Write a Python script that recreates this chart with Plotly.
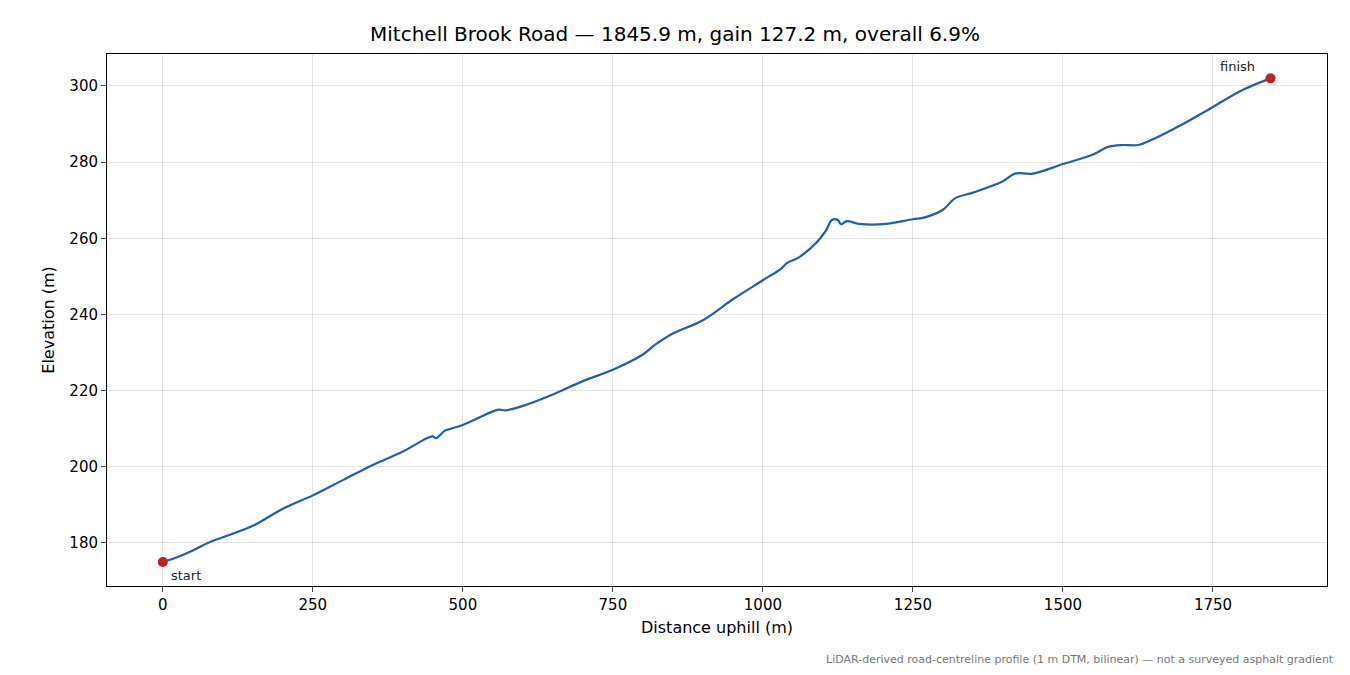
import plotly.graph_objects as go

# profile
distance = [0, 25, 50, 75, 100, 150, 200, 250, 300, 350, 400, 440, 450, 455, 470, 480, 500,
            560, 570, 600, 650, 700, 750, 800, 820, 850, 900, 950, 1000, 1030, 1040, 1060,
            1090, 1105, 1115, 1125, 1130, 1140, 1160, 1200, 1250, 1270, 1300, 1320, 1350,
            1400, 1420, 1450, 1500, 1550, 1575, 1600, 1625, 1650, 1700, 1750, 1800, 1845.9]
elevation = [175, 176.3, 178, 180, 181.5, 184.5, 189, 192.5, 196.5, 200.5, 204, 207.5, 208,
             207.5, 209.5, 210, 211, 215, 214.8, 216, 219, 222.5, 225.5, 229.5, 232, 235,
             238.5, 244, 249, 252, 253.5, 255, 259, 262, 264.8, 264.8, 263.7, 264.5, 263.8,
             263.7, 265, 265.5, 267.5, 270.5, 272, 275, 277, 277, 279.5, 282, 284, 284.5,
             284.5, 286, 290, 294.5, 299, 302]
end_x = [distance[0], distance[-1]]
end_y = [elevation[0], elevation[-1]]

fig = go.Figure()
fig.add_trace(go.Scatter(x=distance, y=elevation, mode="lines", line_shape="spline",
                         line=dict(color="#1f5fb4", width=2.2), hoverinfo="skip"))
fig.add_trace(go.Scatter(x=end_x, y=end_y, mode="markers",
                         marker=dict(color="#c0202a", size=10)))

fig.add_annotation(x=end_x[0], y=end_y[0], text="start", showarrow=False,
                   xanchor="left", yanchor="top", xshift=6, yshift=-4,
                   font=dict(size=13, color="#222"))
fig.add_annotation(x=end_x[1], y=end_y[1], text="finish", showarrow=False,
                   xanchor="right", yanchor="bottom", xshift=-14, yshift=2,
                   font=dict(size=13, color="#222"))
fig.add_annotation(xref="paper", yref="paper", x=1.007, y=-0.139, showarrow=False,
                   xanchor="right", yanchor="middle",
                   text="LiDAR-derived road-centreline profile (1 m DTM, bilinear) — not a surveyed asphalt gradient",
                   font=dict(size=11, color="#777"))

axis = dict(showline=True, linecolor="black", linewidth=1, mirror=True,
            ticks="outside", ticklen=5, gridcolor="rgba(0,0,0,0.1)",
            zeroline=False, tickfont=dict(size=15, color="black"))
fig.update_xaxes(axis, range=[-93, 1940], tickvals=[0, 250, 500, 750, 1000, 1250, 1500, 1750],
                 title=dict(text="Distance uphill (m)", font=dict(size=16), standoff=8))
fig.update_yaxes(axis, range=[168.7, 308.4], tickvals=[180, 200, 220, 240, 260, 280, 300],
                 title=dict(text="Elevation (m)", font=dict(size=16), standoff=10))

fig.update_layout(
    width=1334, height=659, showlegend=False,
    plot_bgcolor="white", paper_bgcolor="white",
    font=dict(family="DejaVu Sans", color="black"),
    title=dict(text="Mitchell Brook Road — 1845.9 m, gain 127.2 m, overall 6.9%",
               x=0.5, xanchor="center", y=0.96, yanchor="middle", font=dict(size=20)),
    margin=dict(l=99, r=15, t=46, b=81),
)

fig.write_html("out.html")
